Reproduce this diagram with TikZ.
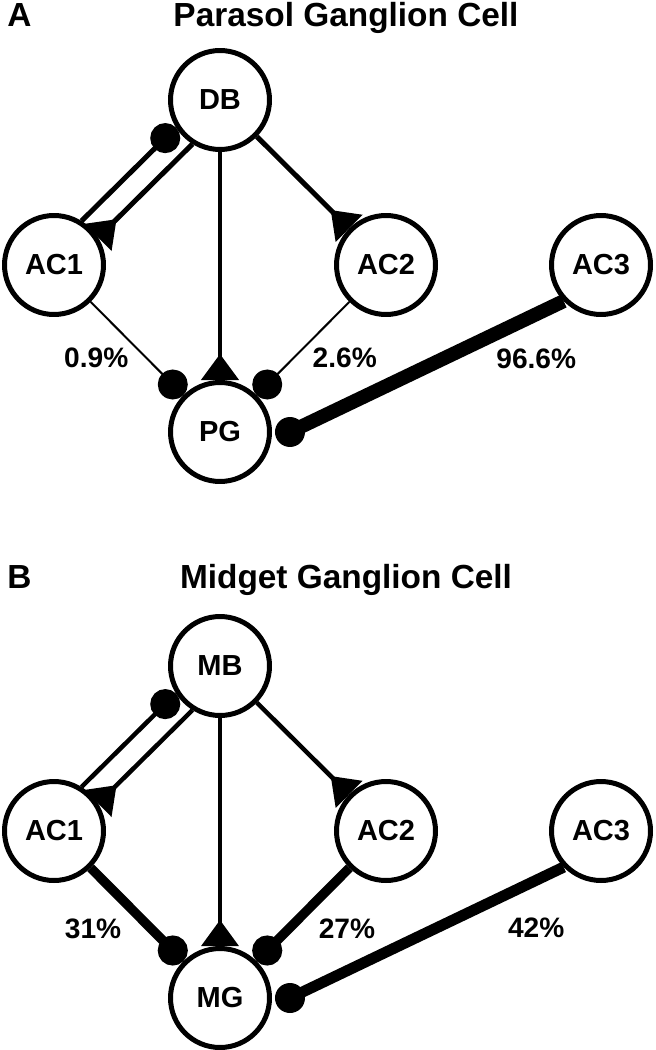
\documentclass[tikz,border=0pt]{standalone}
\usepackage{fontspec}
\setmainfont{Liberation Sans}
\usetikzlibrary{arrows.meta,positioning}
\tikzset{
  cell/.style={circle, draw, line width=0.1cm, minimum size=1.98cm, inner sep=0pt,
               font=\fontsize{16.5}{18}\selectfont\bfseries},
  pct/.style={inner sep=0pt, font=\fontsize{16}{18}\selectfont\bfseries},
  ttl/.style={inner sep=0pt, anchor=base, font=\fontsize{19}{22}\selectfont\bfseries},
  exc/.style={-{Triangle[reversed, length=0.52cm 0 0, width=0.74cm 0 0]}},
  inh/.style={-{Circle[length=0.6cm 0 0]}},
}
\begin{document}
\begin{tikzpicture}[x=0.02cm, y=-0.02cm]
\useasboundingbox (0,0) rectangle (655,1050);

% A: parasol cell
\node[ttl, anchor=base west] (labA) at (7,27) {A};
\node[ttl] (titA) at (346,27) {Parasol Ganglion Cell};
\node[cell] (DB) at (220,100) {DB};
\node[cell] (AC1a) at (54,265) {AC1};
\node[cell] (AC2a) at (386,265) {AC2};
\node[cell] (AC3a) at (601,265) {AC3};
\node[cell] (PG) at (220,432) {PG};

\draw[inh, line width=0.1cm] (AC1a.58) -- (DB.212);
\draw[exc, line width=0.1cm] (DB.238) -- (AC1a.32);
\draw[exc, line width=0.1cm] (DB) -- (AC2a);
\draw[exc, line width=0.09cm] (DB) -- (PG);
\draw[inh, line width=0.04cm] (AC1a) -- (PG) node[pct, pos=.6, left=0.34cm] (pA1) {0.9\%};
\draw[inh, line width=0.04cm] (AC2a) -- (PG) node[pct, pos=.6, right=0.36cm] (pA2) {2.6\%};
\coordinate (dotA) at ([xshift=0.36cm]PG.east);
\draw[line width=0.28cm] (AC3a.224) -- (dotA) node[pct, pos=.1, below=0.56cm] (pA3) {96.6\%};
\fill (dotA) circle[radius=0.3cm];

% B: midget cell
\node[ttl, anchor=base west] (labB) at (7,588) {B};
\node[ttl] (titB) at (346,588) {Midget Ganglion Cell};
\node[cell] (MB) at (220,666) {MB};
\node[cell] (AC1b) at (54,831) {AC1};
\node[cell] (AC2b) at (386,831) {AC2};
\node[cell] (AC3b) at (601,831) {AC3};
\node[cell] (MG) at (220,998) {MG};

\draw[inh, line width=0.09cm] (AC1b.58) -- (MB.212);
\draw[exc, line width=0.09cm] (MB.238) -- (AC1b.32);
\draw[exc, line width=0.09cm] (MB) -- (AC2b);
\draw[exc, line width=0.07cm] (MB) -- (MG);
\draw[inh, line width=0.19cm] (AC1b) -- (MG) node[pct, pos=.65, left=0.5cm] (pB1) {31\%};
\draw[inh, line width=0.19cm] (AC2b) -- (MG) node[pct, pos=.65, right=0.5cm] (pB2) {27\%};
\coordinate (dotB) at ([xshift=0.36cm]MG.east);
\draw[line width=0.22cm] (AC3b.224) -- (dotB) node[pct, pos=.1, below=0.64cm] (pB3) {42\%};
\fill (dotB) circle[radius=0.3cm];
\end{tikzpicture}
\end{document}
